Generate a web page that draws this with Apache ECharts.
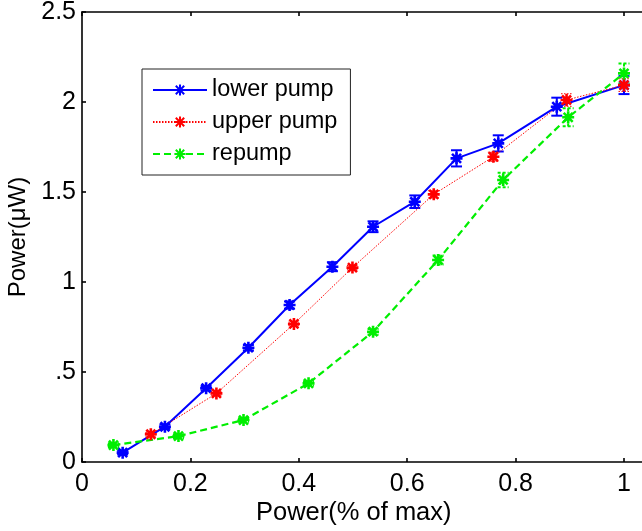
<!DOCTYPE html>
<html>
<head>
<meta charset="utf-8">
<script src="https://cdn.jsdelivr.net/npm/echarts@6/dist/echarts.min.js"></script>
<style>html,body{margin:0;padding:0;background:#fff}#c{width:642px;height:531px}</style>
</head>
<body>
<div id="c"></div>
<script>
// ---- data ----
const seriesNames = ['lower pump', 'upper pump', 'repump'];

const xLower = [0.075, 0.153, 0.229, 0.307, 0.383, 0.462, 0.537, 0.614, 0.691, 0.768, 0.876, 1.0];
const yLower = [0.052, 0.196, 0.41, 0.635, 0.872, 1.085, 1.307, 1.446, 1.687, 1.77, 1.974, 2.094];
const eLower = [0.01, 0.012, 0.012, 0.015, 0.02, 0.025, 0.03, 0.035, 0.045, 0.045, 0.05, 0.05];

const xUpper = [0.127, 0.248, 0.391, 0.499, 0.649, 0.759, 0.894, 1.0];
const yUpper = [0.154, 0.381, 0.767, 1.08, 1.487, 1.696, 2.011, 2.094];
const eUpper = [0.01, 0.01, 0.01, 0.012, 0.02, 0.025, 0.035, 0.035];

const xRepump = [0.058, 0.178, 0.298, 0.418, 0.537, 0.657, 0.777, 0.897, 1.0];
const yRepump = [0.094, 0.144, 0.233, 0.437, 0.724, 1.122, 1.567, 1.915, 2.159];
const eRepump = [0.01, 0.01, 0.01, 0.012, 0.015, 0.025, 0.04, 0.05, 0.055];

const yTickLabels = {0: '0', 0.5: '.5', 1: '1', 1.5: '1.5', 2: '2', 2.5: '2.5'};
const xTitle = 'Power(% of max)';
const yTitle = 'Power(\u03bcW)';

// ---- build chart ----
const FONT = 'Liberation Sans, Arial, Helvetica, sans-serif';
const colors = ['#0000ff', '#ff0000', '#00ee00'];
const lineTypes = ['solid', [1.5, 1.5], [7, 4]];
const lineWidths = [2, 1, 2.2];
const star = 'path://M0,-10L0,10M-10,0L10,0M-7.5,-7.5L7.5,7.5M-7.5,7.5L7.5,-7.5';

function pts(xs, ys) { return xs.map((x, i) => [x, ys[i]]); }
function errs(xs, ys, es) { return xs.map((x, i) => [x, ys[i], es[i]]); }

const sets = [
  [xLower, yLower, eLower],
  [xUpper, yUpper, eUpper],
  [xRepump, yRepump, eRepump]
];

const series = [];
sets.forEach((s, k) => {
  series.push({
    type: 'custom',
    name: seriesNames[k] + ' error',
    data: errs(s[0], s[1], s[2]),
    silent: true,
    z: 3,
    renderItem: function (params, api) {
      const x = api.value(0), y = api.value(1), e = api.value(2);
      const top = api.coord([x, y + e]);
      const bot = api.coord([x, y - e]);
      const w = 5.5;
      const st = { stroke: colors[k], lineWidth: k === 1 ? 1 : 2, lineDash: k === 1 ? [1.5, 1.5] : (k === 2 ? [3, 2] : null) };
      return {
        type: 'group',
        children: [
          { type: 'line', shape: { x1: top[0], y1: top[1], x2: bot[0], y2: bot[1] }, style: st },
          { type: 'line', shape: { x1: top[0] - w, y1: top[1], x2: top[0] + w, y2: top[1] }, style: st },
          { type: 'line', shape: { x1: bot[0] - w, y1: bot[1], x2: bot[0] + w, y2: bot[1] }, style: st }
        ]
      };
    }
  });
  series.push({
    type: 'line',
    name: seriesNames[k],
    data: pts(s[0], s[1]),
    symbol: star,
    symbolSize: 12,
    showAllSymbol: true,
    z: 4,
    lineStyle: { color: colors[k], width: lineWidths[k], type: lineTypes[k] },
    itemStyle: { color: colors[k], borderColor: colors[k], borderWidth: 2.6 },
    emphasis: { disabled: true },
    animation: false
  });
});

const axisLine = { show: true, onZero: false, lineStyle: { color: '#000', width: 1.6 } };
const tick = { show: true, inside: true, length: 4, lineStyle: { color: '#000', width: 1.6 } };

const option = {
  animation: false,
  backgroundColor: '#fff',
  textStyle: { fontFamily: FONT },
  grid: { left: 82, width: 650.4, top: 12, height: 450, containLabel: false, outerBoundsMode: 'none' },
  legend: {
    data: seriesNames,
    orient: 'vertical',
    left: 142,
    top: 69,
    padding: [9, 13, 9, 10],
    backgroundColor: '#fff',
    borderColor: '#222',
    borderWidth: 1,
    borderRadius: 0,
    itemWidth: 54,
    itemHeight: 14,
    itemGap: 8,
    textStyle: { fontSize: 23.5, color: '#000', fontFamily: FONT }
  },
  xAxis: [
    {
      type: 'value', min: 0, max: 1.2, interval: 0.2, position: 'bottom',
      axisLine: axisLine, axisTick: tick, splitLine: { show: false },
      axisLabel: { color: '#000', fontSize: 25, margin: 10, fontFamily: FONT,
        formatter: v => (v > 1.01 ? '' : String(Math.round(v * 10) / 10)) }
    },
    {
      type: 'value', min: 0, max: 1.2, interval: 0.2, position: 'top',
      axisLine: axisLine, axisTick: tick, splitLine: { show: false },
      axisLabel: { show: false }
    }
  ],
  yAxis: [
    {
      type: 'value', min: 0, max: 2.5, interval: 0.5, position: 'left',
      name: yTitle, nameLocation: 'middle', nameGap: 50,
      nameTextStyle: { color: '#000', fontSize: 24, fontFamily: FONT },
      axisLine: axisLine, axisTick: tick, splitLine: { show: false },
      axisLabel: { color: '#000', fontSize: 25, margin: 6, fontFamily: FONT,
        formatter: v => yTickLabels[Math.round(v * 10) / 10] }
    }
  ],
  graphic: [
    { type: 'text', left: 256, top: 500, style: { text: xTitle, fontSize: 25.5, fontFamily: FONT, fill: '#000' } }
  ],
  series: series
};

const chart = echarts.init(document.getElementById('c'), null, { renderer: 'canvas' });
chart.setOption(option);
</script>
</body>
</html>
